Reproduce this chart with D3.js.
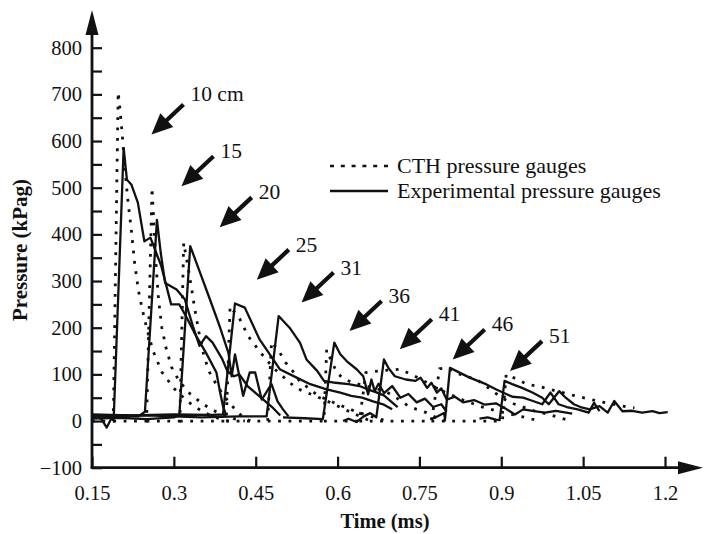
<!DOCTYPE html>
<html>
<head>
<meta charset="utf-8">
<script src="https://cdn.jsdelivr.net/npm/d3@7"></script>
<style>
body { margin: 0; background: #fff; }
svg text { font-family: "Liberation Serif", "Times New Roman", serif; fill: #111; }
</style>
</head>
<body>
<svg id="chart" width="708" height="534"></svg>
<script>
// tick values
var xTicks = [0.15, 0.3, 0.45, 0.6, 0.75, 0.9, 1.05, 1.2];
var xTickLabels = ["0.15", "0.3", "0.45", "0.6", "0.75", "0.9", "1.05", "1.2"];
var yTicks = [-100, -50, 0, 50, 100, 150, 200, 250, 300, 350, 400, 450, 500, 550, 600, 650, 700, 750, 800];

// CTH simulated gauges [time ms, kPag]
var cth10 = [[0.15,0],[0.189,0],[0.198,705],[0.202,660],[0.206,605],[0.211,530],[0.216,470],[0.222,410],[0.228,340],[0.235,280],[0.242,240],[0.25,200],[0.262,150],[0.278,105],[0.30,70],[0.325,42],[0.35,22],[0.375,8],[0.40,0]];
var cth15 = [[0.189,0],[0.25,0],[0.26,500],[0.263,430],[0.267,340],[0.272,260],[0.278,200],[0.286,155],[0.296,115],[0.31,85],[0.33,58],[0.355,35],[0.38,18],[0.41,5],[0.43,0]];
var cth20 = [[0.25,0],[0.311,0],[0.318,382],[0.326,330],[0.333,280],[0.339,235],[0.346,190],[0.355,140],[0.365,105],[0.378,78],[0.393,52],[0.41,28],[0.425,10],[0.44,0]];
var cth25 = [[0.311,0],[0.396,0],[0.403,246],[0.421,218],[0.436,182],[0.454,154],[0.469,132],[0.485,111],[0.506,89],[0.525,70],[0.55,58],[0.575,46],[0.60,32],[0.63,16],[0.66,0]];
var cth31 = [[0.396,0],[0.472,0],[0.479,170],[0.494,147],[0.505,125],[0.52,104],[0.53,86],[0.545,72],[0.56,58],[0.58,46],[0.60,36],[0.63,22],[0.66,10],[0.69,0]];
var cth36 = [[0.472,0],[0.575,0],[0.58,153],[0.59,125],[0.60,102],[0.612,90],[0.628,82],[0.648,76],[0.67,70],[0.69,62],[0.71,48],[0.73,32],[0.745,25],[0.763,18],[0.78,8],[0.80,0]];
var cth41 = [[0.575,0],[0.64,0],[0.652,104],[0.68,108],[0.714,111],[0.735,100],[0.755,88],[0.775,75],[0.80,60],[0.83,45],[0.86,32],[0.89,22],[0.92,14],[0.95,6],[0.97,0]];
var cth46 = [[0.64,0],[0.772,0],[0.787,112],[0.80,114],[0.82,102],[0.84,94],[0.855,89],[0.875,72],[0.895,55],[0.915,40],[0.935,32],[0.96,22],[0.99,13],[1.01,6],[1.03,0]];
var cth51 = [[0.772,0],[0.902,0],[0.909,100],[0.93,89],[0.948,78],[0.967,75],[0.989,68],[1.025,57],[1.047,51],[1.065,46],[1.083,41],[1.122,32],[1.144,28]];

// experimental gauges [time ms, kPag]
var exp10 = [[0.15,8],[0.16,10],[0.168,3],[0.177,-14],[0.184,2],[0.19,12],[0.208,585],[0.214,517],[0.222,507],[0.234,468],[0.246,385],[0.257,393],[0.263,375],[0.277,332],[0.295,250],[0.31,250],[0.322,225],[0.341,182],[0.359,146],[0.378,104],[0.385,60],[0.39,32],[0.395,15]];
var exp15 = [[0.15,12],[0.18,9],[0.21,12],[0.235,10],[0.247,20],[0.269,431],[0.276,360],[0.284,296],[0.305,282],[0.32,261],[0.335,203],[0.347,161],[0.359,182],[0.371,168],[0.389,132],[0.398,107],[0.41,96],[0.42,100],[0.435,75],[0.45,60],[0.465,45],[0.48,30],[0.495,12]];
var exp20 = [[0.15,5],[0.2,7],[0.25,4],[0.30,8],[0.31,12],[0.33,375],[0.348,318],[0.366,261],[0.384,203],[0.40,146],[0.406,96],[0.412,143],[0.427,54],[0.439,104],[0.449,104],[0.461,46],[0.479,79],[0.49,42],[0.50,25],[0.51,10]];
var exp25 = [[0.15,14],[0.22,12],[0.30,14],[0.37,13],[0.39,14],[0.412,252],[0.43,243],[0.457,175],[0.478,139],[0.494,111],[0.525,93],[0.55,79],[0.58,68],[0.605,61],[0.625,54],[0.645,50],[0.665,42],[0.685,35],[0.70,25]];
var exp31 = [[0.15,10],[0.25,12],[0.35,8],[0.42,10],[0.47,10],[0.492,225],[0.512,200],[0.531,168],[0.543,132],[0.563,107],[0.575,86],[0.596,82],[0.62,79],[0.64,75],[0.655,68],[0.67,62],[0.685,55],[0.695,45],[0.71,30]];
var exp36 = [[0.50,8],[0.54,6],[0.573,4],[0.594,168],[0.605,143],[0.617,128],[0.635,111],[0.647,96],[0.656,57],[0.662,89],[0.668,64],[0.675,80],[0.685,60],[0.70,75],[0.715,50],[0.73,58],[0.745,40],[0.76,48],[0.775,30],[0.79,36],[0.80,20]];
var exp41 = [[0.61,0],[0.62,5],[0.635,-2],[0.648,10],[0.66,17],[0.671,8],[0.685,132],[0.693,114],[0.705,96],[0.725,89],[0.743,86],[0.752,93],[0.764,71],[0.772,82],[0.782,61],[0.79,70],[0.80,46],[0.815,52],[0.83,40],[0.85,45],[0.87,35],[0.89,38],[0.91,25],[0.925,14],[0.94,25],[0.96,21],[0.98,18],[1.0,22],[1.03,16]];
var exp46 = [[0.77,4],[0.78,8],[0.795,17],[0.797,5],[0.806,114],[0.818,107],[0.83,100],[0.842,93],[0.857,86],[0.872,79],[0.89,68],[0.905,60],[0.92,52],[0.94,50],[0.958,43],[0.975,36],[0.99,61],[1.005,36],[1.02,30],[1.04,25],[1.06,18],[1.07,39],[1.08,21]];
var exp51 = [[0.86,5],[0.875,8],[0.89,3],[0.897,2],[0.906,86],[0.92,79],[0.938,71],[0.957,61],[0.975,50],[0.987,36],[1.006,64],[1.018,50],[1.033,36],[1.045,30],[1.062,25],[1.08,32],[1.095,18],[1.107,43],[1.122,21],[1.14,22],[1.158,18],[1.177,21],[1.19,17],[1.205,19]];

// gauge annotations: label and where the arrow points
var annoLabels = ["10 cm", "15", "20", "25", "31", "36", "41", "46", "51"];
var annoTime = [0.259, 0.314, 0.384, 0.452, 0.534, 0.622, 0.714, 0.811, 0.916];
var annoPressure = [614, 503, 415, 303, 254, 193, 154, 132, 107];

var cthAll = [cth10, cth15, cth20, cth25, cth31, cth36, cth41, cth46, cth51];
var expAll = [exp10, exp15, exp20, exp25, exp31, exp36, exp41, exp46, exp51];

var svg = d3.select("#chart");
svg.append("rect").attr("width", 708).attr("height", 534).attr("fill", "#fff");

var x = d3.scaleLinear().domain([0.15, 1.2]).range([92, 665]);
var y = d3.scaleLinear().domain([-100, 800]).range([467.7, 47.7]);

var line = d3.line()
    .x(function(d) { return x(d[0]); })
    .y(function(d) { return y(d[1]); });

// curves
svg.append("g").selectAll("path.cth")
    .data(cthAll)
    .enter().append("path")
    .attr("class", "cth")
    .attr("d", line)
    .attr("fill", "none")
    .attr("stroke", "#111")
    .attr("stroke-width", 2.8)
    .attr("stroke-dasharray", "2.8,7.6");

svg.append("g").selectAll("path.exp")
    .data(expAll)
    .enter().append("path")
    .attr("class", "exp")
    .attr("d", line)
    .attr("fill", "none")
    .attr("stroke", "#111")
    .attr("stroke-width", 2.3)
    .attr("stroke-linejoin", "round");

// y axis
var yAxis = d3.axisLeft(y)
    .tickValues(yTicks)
    .tickSize(-10)
    .tickSizeOuter(0)
    .tickPadding(10)
    .tickFormat(function(d) { return d % 100 === 0 ? (d < 0 ? "\u2212" + Math.abs(d) : d) : ""; });

var gy = svg.append("g").attr("transform", "translate(92,0)").call(yAxis);
gy.select(".domain").remove();
gy.selectAll(".tick line").attr("stroke", "#111").attr("stroke-width", 2.2);
gy.selectAll(".tick text").attr("font-size", 20.5).attr("fill", "#111");

// x axis
var xAxis = d3.axisBottom(x)
    .tickValues(xTicks)
    .tickSize(-11)
    .tickSizeOuter(0)
    .tickPadding(18)
    .tickFormat(function(d, i) { return xTickLabels[i]; });

var gx = svg.append("g").attr("transform", "translate(0,467.7)").call(xAxis);
gx.select(".domain").remove();
gx.selectAll(".tick line").attr("stroke", "#111").attr("stroke-width", 2.2);
gx.selectAll(".tick text").attr("font-size", 20.5).attr("fill", "#111");

// axis lines with arrow heads
svg.append("line").attr("x1", 92).attr("y1", 467.7).attr("x2", 92).attr("y2", 30)
    .attr("stroke", "#111").attr("stroke-width", 2.8);
svg.append("path").attr("d", "M92,10 L85.5,35 L98.5,35 Z").attr("fill", "#111");
svg.append("line").attr("x1", 90.6).attr("y1", 467.7).attr("x2", 685).attr("y2", 467.7)
    .attr("stroke", "#111").attr("stroke-width", 2.8);
svg.append("path").attr("d", "M703,467.7 L678,461.2 L678,474.2 Z").attr("fill", "#111");

// axis titles
svg.append("text")
    .attr("x", 385).attr("y", 528)
    .attr("text-anchor", "middle")
    .attr("font-size", 20.5).attr("font-weight", "bold")
    .text("Time (ms)");

svg.append("text")
    .attr("transform", "translate(27,250) rotate(-90)")
    .attr("text-anchor", "middle")
    .attr("font-size", 21).attr("font-weight", "bold")
    .text("Pressure (kPag)");

// arrows to each gauge
var annoG = svg.append("g").selectAll("g")
    .data(annoLabels)
    .enter().append("g");

annoG.each(function(lab, i) {
    var tx = x(annoTime[i]), ty = y(annoPressure[i]);
    var sx = tx + 32, sy = ty - 30;
    var ang = Math.atan2(ty - sy, tx - sx);
    var headLen = 21, headW = 9.5;
    var bx = tx - headLen * Math.cos(ang), by = ty - headLen * Math.sin(ang);
    var px = -Math.sin(ang) * headW, py = Math.cos(ang) * headW;
    var g = d3.select(this);
    g.append("line")
        .attr("x1", sx).attr("y1", sy).attr("x2", bx + 2 * Math.cos(ang)).attr("y2", by + 2 * Math.sin(ang))
        .attr("stroke", "#111").attr("stroke-width", 4.2);
    g.append("path")
        .attr("d", "M" + tx + "," + ty + " L" + (bx + px) + "," + (by + py) + " L" + (bx - px) + "," + (by - py) + " Z")
        .attr("fill", "#111");
    g.append("text")
        .attr("x", sx + 7).attr("y", sy + (i === 0 ? -4 : 2))
        .attr("font-size", 21.5)
        .text(lab);
});

// legend
var legend = svg.append("g");
legend.append("line").attr("x1", 330).attr("x2", 388).attr("y1", 166).attr("y2", 166)
    .attr("stroke", "#111").attr("stroke-width", 2.4).attr("stroke-dasharray", "4,6.8");
legend.append("text").attr("x", 397).attr("y", 173).attr("font-size", 22).text("CTH pressure gauges");
legend.append("line").attr("x1", 330).attr("x2", 388).attr("y1", 191).attr("y2", 191)
    .attr("stroke", "#111").attr("stroke-width", 2.4);
legend.append("text").attr("x", 397).attr("y", 198).attr("font-size", 22).text("Experimental pressure gauges");
</script>
</body>
</html>
